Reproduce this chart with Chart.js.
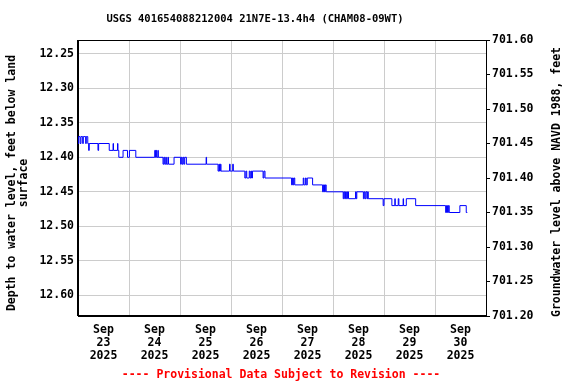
<!DOCTYPE html>
<html>
<head>
<meta charset="utf-8">
<script src="https://cdn.jsdelivr.net/npm/chart.js@4/dist/chart.umd.min.js"></script>
<style>
  html, body { margin: 0; padding: 0; background: #fff; }
  #wrap { width: 576px; height: 384px; }
</style>
</head>
<body>
<div id="wrap"><canvas id="gw-chart" width="576" height="384"></canvas></div>
<script>
// hours since Sep 23 2025 00:00 at which the reading changes, and the new depth
const changeHours = [
    0.0, 0.3, 1.0, 1.4, 2.2, 2.5, 3.6, 3.9, 4.6, 5.0, 5.3, 9.4, 9.7,
    14.7, 16.5, 16.7, 18.6, 18.8, 19.2, 21.2, 23.3, 24.2, 27.2,
    36.1, 36.5, 36.7, 37.0, 37.6, 37.8, 40.0, 40.4, 40.8, 41.3, 41.6, 42.3, 42.6,
    45.2, 48.3, 48.6, 49.0, 49.4, 49.8, 50.2, 51.0, 60.3, 60.5,
    65.9, 66.3, 66.6, 67.0, 67.3, 71.3, 71.6, 72.8, 73.1,
    78.5, 79.0, 79.4, 80.6, 81.0, 81.4, 81.7, 82.1, 87.1, 87.5, 88.0,
    100.5, 100.9, 101.3, 101.6, 102.0, 106.0, 106.3, 107.0, 107.4, 107.9, 110.4,
    115.1, 115.5, 116.0, 116.4, 116.8,
    124.8, 125.1, 125.5, 125.9, 126.3, 126.8, 127.3, 130.6, 130.9, 131.2,
    134.3, 134.7, 135.1, 135.5, 136.0, 136.3, 136.6,
    143.6, 144.0, 147.7, 149.1, 149.3, 150.7, 151.0, 153.0, 153.2, 154.5, 158.9,
    173.0, 173.4, 173.9, 174.3, 174.7, 179.7, 182.7, 183.2
];
const depthValues = [
    12.38, 12.37, 12.38, 12.37, 12.38, 12.37, 12.38, 12.37, 12.38, 12.39, 12.38, 12.39, 12.38,
    12.39, 12.38, 12.39, 12.38, 12.39, 12.40, 12.39, 12.40, 12.39, 12.40,
    12.39, 12.40, 12.39, 12.40, 12.39, 12.40, 12.41, 12.40, 12.41, 12.40, 12.41, 12.40, 12.41,
    12.40, 12.41, 12.40, 12.41, 12.40, 12.41, 12.40, 12.41, 12.40, 12.41,
    12.42, 12.41, 12.42, 12.41, 12.42, 12.41, 12.42, 12.41, 12.42,
    12.43, 12.42, 12.43, 12.42, 12.43, 12.42, 12.43, 12.42, 12.43, 12.42, 12.43,
    12.44, 12.43, 12.44, 12.43, 12.44, 12.43, 12.44, 12.43, 12.44, 12.43, 12.44,
    12.45, 12.44, 12.45, 12.44, 12.45,
    12.46, 12.45, 12.46, 12.45, 12.46, 12.45, 12.46, 12.45, 12.46, 12.45,
    12.46, 12.45, 12.46, 12.45, 12.46, 12.45, 12.46,
    12.47, 12.46, 12.47, 12.46, 12.47, 12.46, 12.47, 12.46, 12.47, 12.46, 12.47,
    12.48, 12.47, 12.48, 12.47, 12.48, 12.47, 12.48, 12.48
];

const dayLabels = ['23', '24', '25', '26', '27', '28', '29', '30'];
const monthLabel = 'Sep';
const yearLabel = '2025';
const depthTicks = [12.25, 12.30, 12.35, 12.40, 12.45, 12.50, 12.55, 12.60];
const elevTicks = [701.20, 701.25, 701.30, 701.35, 701.40, 701.45, 701.50, 701.55, 701.60];

const DEPTH_MIN = 12.23;
const DEPTH_MAX = 12.63;
const ELEV_MIN = 701.20;
const ELEV_MAX = 701.60;

const chartTitle = 'USGS 401654088212004 21N7E-13.4h4 (CHAM08-09WT)';
const leftTitle = ['Depth to water level, feet below land', 'surface'];
const rightTitle = 'Groundwater level above NAVD 1988, feet';
const footerText = '---- Provisional Data Subject to Revision ----';

const MONO = '"DejaVu Sans Mono", "Liberation Mono", monospace';
const tickFont = { family: MONO, size: 11.5, weight: 'bold', lineHeight: 1.1 };

const points = changeHours.map((h, i) => ({ x: h, y: depthValues[i] }));

const textPlugin = {
    id: 'usgsText',
    afterDraw(chart) {
        const ctx = chart.ctx;
        const a = chart.chartArea;
        ctx.save();
        // frame
        ctx.strokeStyle = '#000';
        ctx.lineWidth = 1;
        ctx.strokeRect(Math.round(a.left) - 0.5, Math.round(a.top) + 0.5,
            Math.round(a.right - a.left) + 1, Math.round(a.bottom - a.top) - 1);

        ctx.fillStyle = '#000';
        ctx.textAlign = 'center';
        ctx.textBaseline = 'middle';
        ctx.font = 'bold 10.5px ' + MONO;
        ctx.fillText(chartTitle, 255, 19);

        ctx.font = 'bold 11.5px ' + MONO;
        ctx.save();
        ctx.translate(12, 183);
        ctx.rotate(-Math.PI / 2);
        ctx.fillText(leftTitle[0], 0, 0);
        ctx.fillText(leftTitle[1], 0, 12.5);
        ctx.restore();

        ctx.save();
        ctx.translate(557, 182);
        ctx.rotate(-Math.PI / 2);
        ctx.fillText(rightTitle, 0, 0);
        ctx.restore();

        ctx.fillStyle = '#ff0000';
        ctx.fillText(footerText, 281, 375);
        ctx.restore();
    }
};

new Chart(document.getElementById('gw-chart').getContext('2d'), {
    type: 'line',
    data: {
        datasets: [{
            label: 'Depth',
            data: points,
            stepped: true,
            borderColor: '#0000ff',
            borderWidth: 1,
            pointRadius: 0,
            fill: false,
            yAxisID: 'y'
        }]
    },
    options: {
        responsive: false,
        animation: false,
        events: [],
        layout: { padding: { top: 40, left: 0, right: 0, bottom: 0 } },
        plugins: {
            legend: { display: false },
            tooltip: { enabled: false },
            title: { display: false }
        },
        scales: {
            x: {
                type: 'linear',
                min: 0,
                max: 192,
                afterFit: s => { s.height = 68; },
                afterBuildTicks: s => {
                    const t = [];
                    for (let i = 0; i <= dayLabels.length * 2; i++) t.push({ value: i * 12 });
                    s.ticks = t;
                },
                grid: {
                    drawTicks: false,
                    color: c => (c.tick && c.tick.value % 24 === 0) ? '#cccccc' : 'rgba(0,0,0,0)',
                    lineWidth: 1
                },
                border: { color: '#000' },
                ticks: {
                    autoSkip: false,
                    maxRotation: 0,
                    padding: 8,
                    color: '#000',
                    font: tickFont,
                    callback: v => {
                        if (v % 24 !== 12) return '';
                        return [monthLabel, dayLabels[(v - 12) / 24], yearLabel];
                    }
                }
            },
            y: {
                type: 'linear',
                position: 'left',
                reverse: true,
                min: DEPTH_MIN,
                max: DEPTH_MAX,
                afterFit: s => { s.width = 78; },
                afterBuildTicks: s => { s.ticks = depthTicks.map(v => ({ value: v })); },
                grid: { color: '#cccccc', drawTicks: false },
                border: { color: '#000' },
                ticks: {
                    padding: 4,
                    color: '#000',
                    font: tickFont,
                    callback: v => v.toFixed(2)
                }
            },
            y2: {
                type: 'linear',
                position: 'right',
                min: ELEV_MIN,
                max: ELEV_MAX,
                afterFit: s => { s.width = 90; },
                afterBuildTicks: s => { s.ticks = elevTicks.map(v => ({ value: v })); },
                grid: { drawOnChartArea: false, drawTicks: true, tickLength: 4, color: '#000' },
                border: { color: '#000' },
                ticks: {
                    padding: 2,
                    color: '#000',
                    font: tickFont,
                    callback: v => v.toFixed(2)
                }
            }
        }
    },
    plugins: [textPlugin]
});
</script>
</body>
</html>
